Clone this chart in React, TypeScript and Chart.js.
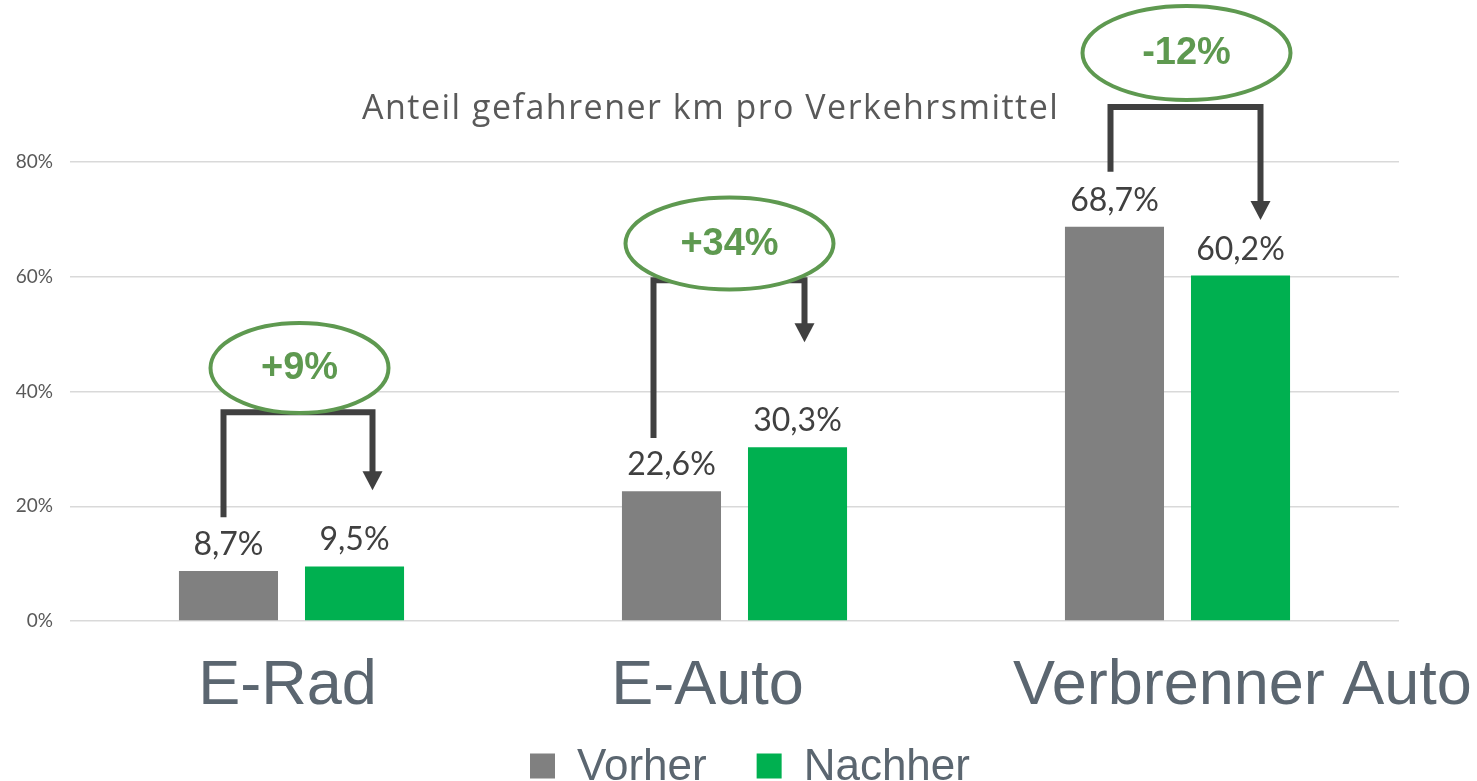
import React, { useEffect, useRef } from "react";
import { Chart, registerables } from "chart.js";

Chart.register(...registerables);

const categories = ["E-Rad", "E-Auto", "Verbrenner Auto"];
const vorher = [8.7, 22.6, 68.7];
const nachher = [9.5, 30.3, 60.2];
const changeLabels = ["+9%", "+34%", "-12%"];
const yTicks = [0, 20, 40, 60, 80];
const seriesNames = ["Vorher", "Nachher"];
const titleText = "Anteil gefahrener km pro Verkehrsmittel";

const GRAY = "#808080";
const GREEN = "#00b050";
const ANNO_GREEN = "#5e9950";
const DARK = "#404040";
const AXIS_TEXT = "#5b6670";

// category label offsets (px from category centre)
const labelOffsets = [-4, -27, 65];

// annotation geometry: y in value units, x offsets in px from category centre
const brackets = [
  { top: 36.4, leftBottom: 18.1, tip: 22.8, dxL: -68, dxR: 81, ex: 8, ey: 44.1, rx: 89, ry: 45 },
  { top: 59.4, leftBottom: 31.9, tip: 48.6, dxL: -81, dxR: 70, ex: -5, ey: 65.8, rx: 104, ry: 46 },
  { top: 89.6, leftBottom: 78.3, tip: 69.9, dxL: -67, dxR: 83, ex: 9, ey: 99.0, rx: 104, ry: 47 },
];

const fmt = (v: number) => v.toFixed(1).replace(".", ",") + "%";

const overlayPlugin = {
  id: "overlay",
  afterDatasetsDraw(chart: any) {
    const ctx = chart.ctx;
    const xs = chart.scales.x;
    const ys = chart.scales.y;
    ctx.save();
    // data labels
    ctx.font = "32px Lato";
    ctx.fillStyle = DARK;
    ctx.textAlign = "center";
    ctx.textBaseline = "alphabetic";
    chart.data.datasets.forEach((ds: any, di: number) => {
      const meta = chart.getDatasetMeta(di);
      meta.data.forEach((bar: any, i: number) => {
        ctx.fillText(fmt(ds.data[i]), bar.x, bar.y - 16);
      });
    });
    // category labels
    ctx.font = "63px 'Liberation Sans', Arial";
    ctx.fillStyle = AXIS_TEXT;
    categories.forEach((c, i) => {
      ctx.fillText(c, xs.getPixelForValue(i) + labelOffsets[i], 704);
    });
    // brackets + ellipses
    brackets.forEach((b, i) => {
      const cx = xs.getPixelForValue(i);
      const xl = cx + b.dxL;
      const xr = cx + b.dxR;
      const yTop = ys.getPixelForValue(b.top);
      const yLB = ys.getPixelForValue(b.leftBottom);
      const yTip = ys.getPixelForValue(b.tip);
      ctx.strokeStyle = DARK;
      ctx.fillStyle = DARK;
      ctx.lineWidth = 6;
      ctx.lineCap = "butt";
      ctx.lineJoin = "miter";
      ctx.beginPath();
      ctx.moveTo(xl, yLB);
      ctx.lineTo(xl, yTop);
      ctx.lineTo(xr, yTop);
      ctx.lineTo(xr, yTip - 18);
      ctx.stroke();
      ctx.beginPath();
      ctx.moveTo(xr - 10, yTip - 19);
      ctx.lineTo(xr + 10, yTip - 19);
      ctx.lineTo(xr, yTip);
      ctx.closePath();
      ctx.fill();

      const ex = cx + b.ex;
      const ey = ys.getPixelForValue(b.ey);
      ctx.beginPath();
      ctx.ellipse(ex, ey, b.rx, b.ry, 0, 0, Math.PI * 2);
      ctx.fillStyle = "#ffffff";
      ctx.fill();
      ctx.lineWidth = 4;
      ctx.strokeStyle = ANNO_GREEN;
      ctx.stroke();
      ctx.fillStyle = ANNO_GREEN;
      ctx.font = "bold 38px 'Liberation Sans', Arial";
      ctx.textAlign = "center";
      ctx.textBaseline = "middle";
      ctx.fillText(changeLabels[i], ex, ey + 1);
    });
    // title
    ctx.font = "34px 'Open Sans'";
    ctx.fillStyle = "#595959";
    ctx.textAlign = "left";
    ctx.textBaseline = "alphabetic";
    const tw = ctx.measureText(titleText).width;
    const ls = (696 - tw) / (titleText.length - 1);
    (ctx as any).letterSpacing = ls.toFixed(2) + "px";
    ctx.fillText(titleText, 362, 119);
    (ctx as any).letterSpacing = "0px";
    // legend
    const colors = [GRAY, GREEN];
    ctx.font = "44px 'Liberation Sans', Arial";
    ctx.textBaseline = "middle";
    ctx.textAlign = "left";
    const ly = 766;
    let lx = 530;
    seriesNames.forEach((name, i) => {
      const w = ctx.measureText(name).width;
      ctx.fillStyle = colors[i];
      ctx.fillRect(lx, ly - 12.5, 25, 25);
      ctx.fillStyle = AXIS_TEXT;
      ctx.fillText(name, lx + 47, ly + 2);
      lx += 47 + w + 50;
    });
    ctx.restore();
  },
};

export default function App() {
  const ref = useRef<HTMLCanvasElement | null>(null);
  useEffect(() => {
    if (!ref.current) return;
    const chart = new Chart(ref.current, {
      type: "bar",
      data: {
        labels: categories,
        datasets: [
          { label: seriesNames[0], data: vorher, backgroundColor: GRAY, categoryPercentage: 0.569, barPercentage: 0.786 },
          { label: seriesNames[1], data: nachher, backgroundColor: GREEN, categoryPercentage: 0.569, barPercentage: 0.786 },
        ],
      },
      options: {
        animation: false,
        responsive: true,
        maintainAspectRatio: false,
        layout: { padding: { top: 162, right: 78, bottom: 60, left: 0 } },
        plugins: {
          legend: { display: false },
          title: { display: false },
          tooltip: { enabled: false },
        },
        scales: {
          x: {
            grid: { display: false },
            border: { display: false },
            ticks: { display: false },
            afterFit(scale: any) {
              scale.height = 100;
            },
          } as any,
          y: {
            min: 0,
            max: 80,
            afterBuildTicks(scale: any) {
              scale.ticks = yTicks.map((v) => ({ value: v }));
            },
            afterFit(scale: any) {
              scale.width = 70;
            },
            grid: { color: "#d9d9d9", lineWidth: 1.5, drawTicks: false },
            border: { display: false },
            ticks: {
              color: "#595959",
              font: { family: "Lato", size: 19 },
              padding: 17,
              callback: (v: any) => v + "%",
            },
          },
        },
      },
      plugins: [overlayPlugin],
    });
    return () => chart.destroy();
  }, []);
  return (
    <div style={{ position: "fixed", left: 0, top: 0, width: 1477, height: 781, background: "#fff" }}>
      <canvas ref={ref} />
    </div>
  );
}
